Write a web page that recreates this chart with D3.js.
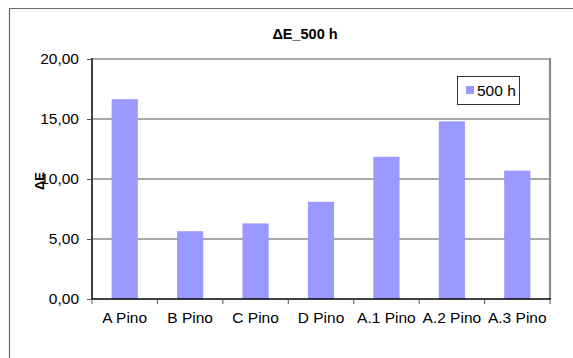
<!DOCTYPE html>
<html>
<head>
<meta charset="utf-8">
<script src="https://cdn.jsdelivr.net/npm/d3@7"></script>
<style>
  html, body { margin: 0; padding: 0; background: #fff; }
  svg { display: block; font-family: "Liberation Sans", Arial, sans-serif; }
</style>
</head>
<body>
<svg id="chart" width="573" height="358"></svg>
<script>
// Colour difference after 500 h of exposure, per wood sample
const categories = ["A Pino", "B Pino", "C Pino", "D Pino", "A.1 Pino", "A.2 Pino", "A.3 Pino"];
const values500h = [16.65, 5.65, 6.3, 8.1, 11.85, 14.8, 10.7];
const yTicks = [0, 5, 10, 15, 20];
const seriesName = "500 h";
const chartTitle = "\u0394E_500 h";
const yTitle = "\u0394E";

const svg = d3.select("#chart");
const plot = { left: 92, right: 550, top: 59, bottom: 299 };

const x = d3.scaleBand().domain(categories).range([plot.left, plot.right]).paddingInner(0.6).paddingOuter(0.3);
const xTickScale = d3.scaleLinear().domain([0, categories.length]).range([plot.left, plot.right]);
const y = d3.scaleLinear().domain([0, 20]).range([plot.bottom, plot.top]);

// outer frame (top and left edges)
svg.append("path")
  .attr("d", `M9.5,358 V8.5 H573`)
  .attr("fill", "none").attr("stroke", "#6a6a6a").attr("stroke-width", 1.2);

// title
svg.append("text")
  .attr("x", 305).attr("y", 39)
  .attr("text-anchor", "middle")
  .attr("font-size", 14.5).attr("font-weight", "bold")
  .text(chartTitle);

// gridlines
svg.append("g").selectAll("line")
  .data(yTicks.filter(d => d > 0))
  .join("line")
  .attr("x1", plot.left).attr("x2", plot.right)
  .attr("y1", d => y(d)).attr("y2", d => y(d))
  .attr("stroke", "#8c8c8c").attr("stroke-width", 1.3);

// right border of plot area
svg.append("line")
  .attr("x1", plot.right).attr("x2", plot.right)
  .attr("y1", plot.top - 1).attr("y2", plot.bottom)
  .attr("stroke", "#8c8c8c").attr("stroke-width", 2.2);

// bars
svg.append("g").selectAll("rect")
  .data(values500h)
  .join("rect")
  .attr("x", (d, i) => x(categories[i]))
  .attr("width", x.bandwidth())
  .attr("y", d => y(d))
  .attr("height", d => y(0) - y(d))
  .attr("fill", "#9999ff");

// y axis
const yAxis = d3.axisLeft(y).tickValues(yTicks).tickSize(5).tickPadding(8)
  .tickFormat(d => d3.format(".2f")(d).replace(".", ","));
const gy = svg.append("g").attr("transform", `translate(${plot.left},0)`).call(yAxis);
gy.select(".domain").attr("stroke", "#000").attr("stroke-width", 1.5).attr("d", `M0,${plot.top - 1}V${plot.bottom}`);
gy.selectAll(".tick line").attr("stroke", "#555");
gy.selectAll(".tick text").attr("font-size", 15.5).attr("fill", "#000").attr("font-family", "Liberation Sans, Arial, sans-serif");

// x axis
const gx = svg.append("g").attr("transform", `translate(0,${plot.bottom})`);
gx.append("line")
  .attr("x1", plot.left).attr("x2", plot.right + 1)
  .attr("stroke", "#000").attr("stroke-width", 1.5);
gx.selectAll(".xt").data(d3.range(categories.length + 1)).join("line")
  .attr("x1", i => xTickScale(i)).attr("x2", i => xTickScale(i))
  .attr("y1", 0).attr("y2", 5)
  .attr("stroke", "#555");
gx.selectAll(".xl").data(categories).join("text")
  .attr("x", (d, i) => (xTickScale(i) + xTickScale(i + 1)) / 2)
  .attr("y", 24)
  .attr("text-anchor", "middle")
  .attr("font-size", 15.5)
  .text(d => d);

// y axis title
svg.append("text")
  .attr("transform", "translate(44,181) rotate(-90)")
  .attr("text-anchor", "middle")
  .attr("font-size", 13).attr("font-weight", "bold")
  .text(yTitle);

// legend
const lg = svg.append("g");
lg.append("rect").attr("x", 457.5).attr("y", 76.5).attr("width", 62).attr("height", 28)
  .attr("fill", "#fff").attr("stroke", "#333").attr("stroke-width", 1);
lg.append("rect").attr("x", 466).attr("y", 86).attr("width", 8).attr("height", 8).attr("fill", "#9999ff");
lg.append("text").attr("x", 477).attr("y", 96).attr("font-size", 15.5).text(seriesName);
</script>
</body>
</html>
